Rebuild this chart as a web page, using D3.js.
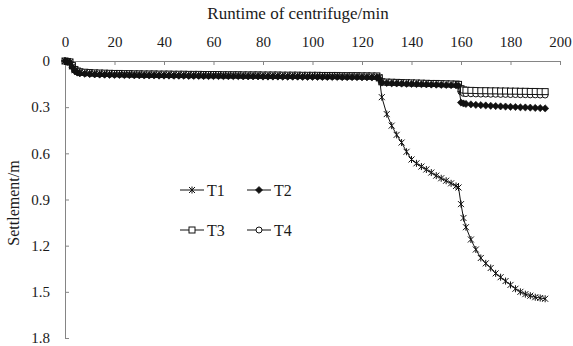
<!DOCTYPE html>
<html>
<head>
<meta charset="utf-8">
<script src="https://cdn.jsdelivr.net/npm/d3@7"></script>
<style>
  body { margin: 0; background: #fff; }
  svg text { font-family: "Liberation Serif", "Times New Roman", Times, "DejaVu Serif", serif; fill: #1a1a1a; }
  .axis path, .axis line { stroke: #858585; stroke-width: 1; }
  .line { fill: none; stroke: #111; stroke-width: 1; }
</style>
</head>
<body>
<script>
// Settlement against runtime of centrifuge, four tests T1 - T4

// Runtime of centrifuge (min), shared by all four series
var runtime = [0, 1, 2, 3, 4, 5, 6,
  8, 10, 12, 14, 16, 18, 20, 22, 24, 26,
  28, 30, 32, 34, 36, 38, 40, 42, 44, 46,
  48, 50, 52, 54, 56, 58, 60, 62, 64, 66,
  68, 70, 72, 74, 76, 78, 80, 82, 84, 86,
  88, 90, 92, 94, 96, 98, 100, 102, 104, 106,
  108, 110, 112, 114, 116, 118, 120, 122, 124, 126,
  127, 128, 130, 132, 134, 136, 138, 140, 142, 144, 146, 148, 150, 152, 154, 156, 158,
  159, 160, 161, 162, 164, 166, 168, 170, 172, 174, 176, 178, 180, 182, 184, 186, 188, 190, 192, 194];

// Settlement (m)
var settleT1 = [0, 0.004, 0.008, 0.035, 0.06, 0.07, 0.075,
  0.078, 0.080, 0.082, 0.083, 0.084, 0.085, 0.086, 0.086, 0.087, 0.087,
  0.088, 0.088, 0.089, 0.089, 0.089, 0.090, 0.090, 0.090, 0.091, 0.091,
  0.091, 0.092, 0.092, 0.092, 0.093, 0.093, 0.093, 0.093, 0.094, 0.094,
  0.094, 0.094, 0.095, 0.095, 0.095, 0.095, 0.096, 0.096, 0.096, 0.096,
  0.097, 0.097, 0.097, 0.097, 0.098, 0.098, 0.098, 0.098, 0.099, 0.099,
  0.099, 0.099, 0.100, 0.100, 0.100, 0.100, 0.101, 0.101, 0.102, 0.102,
  0.104, 0.235, 0.345, 0.42, 0.48, 0.53, 0.59, 0.64, 0.665, 0.686, 0.705, 0.725, 0.745, 0.762, 0.778, 0.795, 0.812,
  0.822, 0.93, 1.02, 1.08, 1.16, 1.225, 1.28, 1.315, 1.345, 1.38, 1.405, 1.43, 1.455, 1.48, 1.5, 1.515, 1.525, 1.535, 1.54, 1.545];

var settleT2 = [0, 0.005, 0.01, 0.04, 0.065, 0.075, 0.08,
  0.083, 0.085, 0.087, 0.088, 0.089, 0.090, 0.091, 0.091, 0.092, 0.092,
  0.093, 0.093, 0.094, 0.094, 0.094, 0.095, 0.095, 0.095, 0.096, 0.096,
  0.096, 0.097, 0.097, 0.097, 0.098, 0.098, 0.098, 0.098, 0.099, 0.099,
  0.099, 0.099, 0.100, 0.100, 0.100, 0.100, 0.101, 0.101, 0.101, 0.101,
  0.102, 0.102, 0.102, 0.102, 0.103, 0.103, 0.103, 0.103, 0.104, 0.104,
  0.104, 0.104, 0.105, 0.105, 0.105, 0.105, 0.106, 0.106, 0.107, 0.107,
  0.115, 0.140, 0.143, 0.145, 0.146, 0.147, 0.148, 0.149, 0.150, 0.151, 0.152, 0.153, 0.154, 0.155, 0.156, 0.157, 0.158,
  0.160, 0.270, 0.276, 0.279, 0.282, 0.285, 0.287, 0.289, 0.291, 0.293, 0.295, 0.296, 0.298, 0.299, 0.301, 0.302, 0.303, 0.305, 0.306, 0.308];

var settleT3 = [0, 0.003, 0.006, 0.03, 0.055, 0.065, 0.07,
  0.073, 0.075, 0.077, 0.078, 0.079, 0.080, 0.081, 0.081, 0.082, 0.082,
  0.083, 0.083, 0.084, 0.084, 0.084, 0.085, 0.085, 0.085, 0.086, 0.086,
  0.086, 0.087, 0.087, 0.087, 0.088, 0.088, 0.088, 0.088, 0.089, 0.089,
  0.089, 0.089, 0.090, 0.090, 0.090, 0.090, 0.091, 0.091, 0.091, 0.091,
  0.092, 0.092, 0.092, 0.092, 0.093, 0.093, 0.093, 0.093, 0.094, 0.094,
  0.094, 0.094, 0.095, 0.095, 0.095, 0.095, 0.096, 0.096, 0.097, 0.097,
  0.110, 0.135, 0.137, 0.138, 0.139, 0.140, 0.141, 0.142, 0.143, 0.144, 0.145, 0.146, 0.146, 0.147, 0.148, 0.149, 0.150,
  0.152, 0.180, 0.188, 0.190, 0.191, 0.192, 0.193, 0.193, 0.194, 0.194, 0.195, 0.195, 0.196, 0.196, 0.197, 0.197, 0.198, 0.198, 0.199, 0.199];

var settleT4 = [0, 0.004, 0.008, 0.035, 0.06, 0.07, 0.076,
  0.079, 0.081, 0.083, 0.084, 0.085, 0.086, 0.087, 0.087, 0.088, 0.088,
  0.089, 0.089, 0.090, 0.090, 0.090, 0.091, 0.091, 0.091, 0.092, 0.092,
  0.092, 0.093, 0.093, 0.093, 0.094, 0.094, 0.094, 0.094, 0.095, 0.095,
  0.095, 0.095, 0.096, 0.096, 0.096, 0.096, 0.097, 0.097, 0.097, 0.097,
  0.098, 0.098, 0.098, 0.098, 0.099, 0.099, 0.099, 0.099, 0.100, 0.100,
  0.100, 0.100, 0.101, 0.101, 0.101, 0.101, 0.102, 0.102, 0.103, 0.103,
  0.112, 0.138, 0.140, 0.141, 0.142, 0.143, 0.144, 0.145, 0.146, 0.147, 0.148, 0.149, 0.150, 0.151, 0.152, 0.153, 0.154,
  0.156, 0.200, 0.210, 0.212, 0.213, 0.214, 0.215, 0.215, 0.216, 0.216, 0.217, 0.217, 0.218, 0.218, 0.219, 0.219, 0.220, 0.220, 0.221, 0.221];

var seriesNames = ["T1", "T2", "T3", "T4"];

// Tick values and labels
var xTicks = [0, 20, 40, 60, 80, 100, 120, 140, 160, 180, 200];
var yTicks = [0, 0.3, 0.6, 0.9, 1.2, 1.5, 1.8];
var yTickLabels = ["0", "0.3", "0.6", "0.9", "1.2", "1.5", "1.8"];

var serif = '"Liberation Serif", "Times New Roman", Times, "DejaVu Serif", serif';

// Page dimensions
var margin = {
    top: 61,
    right: 13,
    bottom: 8,
    left: 65
  },
  width = 573 - margin.left - margin.right,
  height = 346 - margin.top - margin.bottom;

// Scales (settlement grows downwards)
var x = d3.scaleLinear().domain([0, 200]).range([0, width]);
var y = d3.scaleLinear().domain([0, 1.8]).range([0, height]);

var svg = d3.select("body")
  .append("svg")
  .attr("width", 573)
  .attr("height", 346)
  .style("font-family", serif);

var chart = svg.append("g")
  .attr("transform", "translate(" + margin.left + "," + margin.top + ")");

// Axes: x along the top, ticks pointing in
var xAxisG = chart.append("g")
  .attr("class", "x axis")
  .call(d3.axisTop(x).tickValues(xTicks).tickSizeInner(-4).tickSizeOuter(0).tickPadding(14));

var yAxisG = chart.append("g")
  .attr("class", "y axis")
  .call(d3.axisLeft(y).tickValues(yTicks).tickSizeInner(-4).tickSizeOuter(0).tickPadding(15)
    .tickFormat(function(d, i) { return yTickLabels[i]; }));

// d3 puts font attributes on the axis groups, override them
chart.selectAll(".axis")
  .attr("font-family", serif)
  .attr("font-size", 15);

chart.selectAll(".axis text")
  .style("font-family", serif)
  .style("font-size", "15px");

// Axis titles
svg.append("text")
  .attr("x", 298)
  .attr("y", 19)
  .attr("text-anchor", "middle")
  .style("font-family", serif)
  .style("font-size", "17px")
  .text("Runtime of centrifuge/min");

svg.append("text")
  .attr("transform", "translate(19,203) rotate(-90)")
  .attr("text-anchor", "middle")
  .style("font-family", serif)
  .style("font-size", "16px")
  .text("Settlement/m");

// Marker shapes
var markers = {
  T1: function(g) {
    g.append("path").attr("d", "M-3,-3L3,3M-3,3L3,-3M0,-3.5L0,3.5")
      .attr("stroke", "#111").attr("stroke-width", 1).attr("fill", "none");
  },
  T2: function(g) {
    g.append("path").attr("d", "M0,-3.6L3.6,0L0,3.6L-3.6,0Z")
      .attr("fill", "#111").attr("stroke", "#111").attr("stroke-width", 0.6);
  },
  T3: function(g) {
    g.append("rect").attr("x", -3).attr("y", -3).attr("width", 6).attr("height", 6)
      .attr("fill", "#fff").attr("stroke", "#111").attr("stroke-width", 1);
  },
  T4: function(g) {
    g.append("circle").attr("r", 3)
      .attr("fill", "#fff").attr("stroke", "#111").attr("stroke-width", 1);
  }
};

var settle = { T1: settleT1, T2: settleT2, T3: settleT3, T4: settleT4 };

var valueline = d3.line()
  .x(function(d) { return x(d.t); })
  .y(function(d) { return y(d.s); });

// Draw T4, T3, T1 then T2 so the filled diamonds sit on top
["T4", "T3", "T1", "T2"].forEach(function(name) {
  var data = runtime.map(function(t, i) { return { t: t, s: settle[name][i] }; });

  chart.append("path")
    .attr("class", "line")
    .attr("d", valueline(data));

  chart.selectAll(".pt" + name)
    .data(data)
    .enter().append("g")
    .attr("class", "pt" + name)
    .attr("transform", function(d) { return "translate(" + x(d.t) + "," + y(d.s) + ")"; })
    .each(function() { markers[name](d3.select(this)); });
});

// Legend, two columns by two rows
var legend = svg.selectAll(".legend")
  .data(seriesNames)
  .enter().append("g")
  .attr("class", "legend")
  .attr("transform", function(d, i) {
    return "translate(" + (180 + (i % 2) * 67) + "," + (190 + Math.floor(i / 2) * 40) + ")";
  });

legend.append("line")
  .attr("x1", 0)
  .attr("x2", 24)
  .attr("stroke", "#111")
  .attr("stroke-width", 1);

legend.append("g")
  .attr("transform", "translate(12,0)")
  .each(function(d) { markers[d](d3.select(this)); });

legend.append("text")
  .attr("x", 27)
  .attr("dy", "0.35em")
  .style("font-family", serif)
  .style("font-size", "16px")
  .text(function(d) { return d; });
</script>
</body>
</html>
